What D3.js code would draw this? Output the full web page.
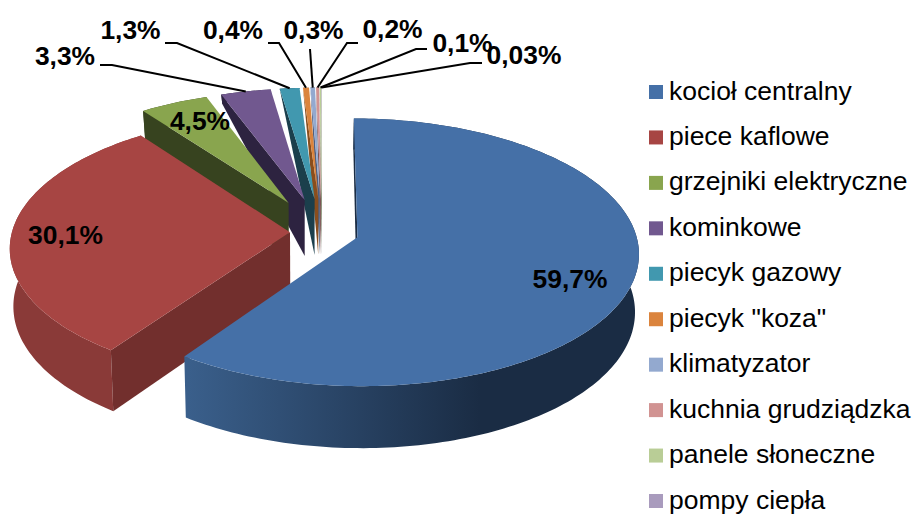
<!DOCTYPE html>
<html><head><meta charset="utf-8">
<style>html,body{margin:0;padding:0;background:#fff;overflow:hidden}svg{display:block}text{font-family:"Liberation Sans",Arial,sans-serif}</style>
<script src="https://cdn.jsdelivr.net/npm/d3@7"></script>
</head><body><svg id="c" width="912" height="514"></svg>
<script>
const categories=["kocioł centralny","piece kaflowe","grzejniki elektryczne","kominkowe","piecyk gazowy","piecyk \"koza\"","klimatyzator","kuchnia grudziądzka","panele słoneczne","pompy ciepła"];
const values=[59.7,30.1,4.5,3.3,1.3,0.4,0.3,0.2,0.1,0.03];
const valueLabels=["59,7%","30,1%","4,5%","3,3%","1,3%","0,4%","0,3%","0,2%","0,1%","0,03%"];
const explosion=[37,32,72,72,72,72,72,72,72,72];
const topColors=["#4570a7","#a74543","#89a54e","#71588f","#4198af","#db843d","#93a9cf","#d19392","#b9cd96","#a99bbd"];
const sideColors=["#1b2d45","#722f2d","#37431f","#2d2340","#1b3f4c","#8a4e1d","#4f5f80","#7d5554","#6d7b52","#5e5470"];
const wallColors=["url(#blueWall)","#8a3a38","#37431f","#2d2340","#1b3f4c","#8a4e1d","#4f5f80","#7d5554","#6d7b52","#5e5470"];
// label layout: baseline x/y and leader route (label end, elbow)
const labelPos=[[570,288],[65.5,244],[200,130],[65,65],[130.5,39],[233,39],[313.5,39],[392.5,38],[462.5,52],[524,64]];
const leaderPos=[null,null,null,[[100,65],[112,65]],[[165,43],[177,43]],[[268,43],[279,43]],[[310,49]],[[358,43],[347,43]],[[427,49],[416,49]],[[482,63],[470,63]]];

const svg=d3.select("#c");
const R=278,tilt=0.471,persp=0.112/278,cx=322,cy=232,vx=310;
const depth=d3.scaleLinear().domain([-230,70,290,340]).range([61,56,28,5]);
function ground(a,r,ox,oy){return {X:ox+r*Math.sin(a),Y:oy+r*Math.cos(a)};}
function top3(g){const s=1/(1+persp*g.Y);return {x:cx+g.X*s,y:cy-tilt*g.Y*s,Y:g.Y};}
function under(p){return {x:vx+(p.x-vx)*0.988,y:p.y+depth(p.Y)};}
const line=d3.line().x(d=>d.x).y(d=>d.y);

const defs=svg.append("defs");
const grad=defs.append("linearGradient").attr("id","blueWall").attr("gradientUnits","userSpaceOnUse").attr("x1",188).attr("x2",480).attr("y1",0).attr("y2",0);
grad.append("stop").attr("offset",0).attr("stop-color","#3a5f8b");
grad.append("stop").attr("offset",1).attr("stop-color","#1a2c44");

const arcs=d3.pie().sort(null).value(d=>d)(values);
const geo=arcs.map((a,i)=>{
  const mid=(a.startAngle+a.endAngle)/2,ox=explosion[i]*Math.sin(mid),oy=explosion[i]*Math.cos(mid);
  const n=Math.max(2,Math.ceil((a.endAngle-a.startAngle)/0.02));
  const rim=d3.range(n+1).map(k=>top3(ground(a.startAngle+(a.endAngle-a.startAngle)*k/n,R,ox,oy)));
  return {i,apex:top3({X:ox,Y:oy}),rim,midPt:top3(ground(mid,R,ox,oy))};
});
const pie=svg.append("g");
geo.slice().reverse().forEach(g=>{
  const G=pie.append("g");
  // outer wall: one path made of a quad per rim step, so the silhouette is filled
  const quads=g.rim.slice(1).map((p,k)=>line([g.rim[k],p,under(p),under(g.rim[k])])+"Z").join("");
  G.append("path").attr("d",quads).attr("fill",wallColors[g.i]);
  G.append("path").attr("d",line([g.apex,g.rim[0],under(g.rim[0]),under(g.apex)])+"Z").attr("fill",sideColors[g.i]);
  G.append("path").attr("d",line([g.apex,...g.rim])+"Z").attr("fill",topColors[g.i]);
});
// leaders
svg.append("g").selectAll("path").data(geo.filter(g=>leaderPos[g.i])).join("path")
  .attr("d",g=>d3.line()([...leaderPos[g.i],[g.midPt.x,g.midPt.y]]))
  .attr("fill","none").attr("stroke","#000").attr("stroke-width",2);
// value labels
svg.append("g").selectAll("text").data(valueLabels).join("text")
  .attr("x",(d,i)=>labelPos[i][0]).attr("y",(d,i)=>labelPos[i][1])
  .attr("text-anchor","middle").attr("font-size",26.4).attr("font-weight","bold").attr("fill","#000").text(d=>d);
// legend
const rowY=d3.scalePoint().domain(categories).range([92,501]);
const leg=svg.append("g").selectAll("g").data(categories).join("g").attr("transform",d=>`translate(649,${rowY(d)})`);
leg.append("rect").attr("x",0).attr("y",-7).attr("width",14).attr("height",14).attr("fill",(d,i)=>topColors[i]);
leg.append("text").attr("x",20).attr("y",7.5).attr("font-size",26.5).attr("fill","#000").text(d=>d);
</script></body></html>
